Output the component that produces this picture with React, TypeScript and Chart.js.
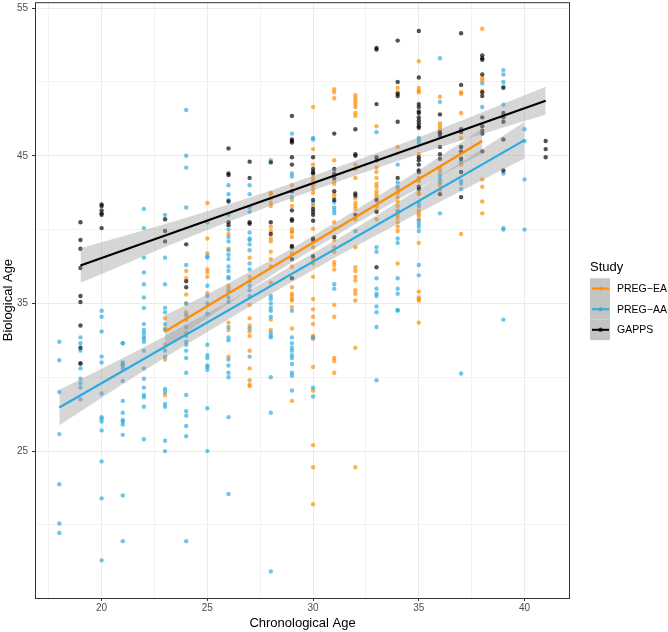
import React, { useEffect, useRef } from 'react';
import { Chart, registerables } from 'chart.js';

Chart.register(...registerables);

// ---------------- data ----------------
const studyNames = ['PREG\u2212EA', 'PREG\u2212AA', 'GAPPS'];

// [chronological age, biological ages]
const pregEA: [number, number[]][] = [
  [23, [34.0, 33.3, 32.2, 31.2, 28.8]],
  [24, [37.2, 36.7, 35.6, 35.0, 34.4, 33.9, 33.0]],
  [25, [41.8, 39.4, 38.4, 37.3, 37.1, 36.8, 35.7]],
  [26, [39.7, 38.7, 36.2, 36.0, 33.7, 33.2, 31.4]],
  [27, [38.1, 36.8, 34.9, 34.0, 33.5, 33.1, 32.8, 31.8, 30.6, 29.8, 29.5, 29.4]],
  [28, [42.5, 42.4, 42.1, 41.8, 41.6, 40.2, 39.9, 39.4, 39.2, 38.5, 38.0, 37.5, 36.4, 33.9, 33.2]],
  [29, [43.0, 42.0, 41.6, 40.05, 39.9, 39.8, 39.5, 38.4, 37.5, 36.1, 35.65, 35.5, 35.3, 35.2, 34.75, 33.3, 28.4]],
  [30, [48.3, 45.45, 44.4, 43.5, 43.3, 43.0, 42.75, 42.5, 41.6, 40.05, 38.8, 38.0, 37.7, 36.8, 35.3, 34.6, 34.1, 33.6, 32.8, 32.7, 32.6, 30.7, 29.1, 25.4, 23.9, 21.4]],
  [31, [49.5, 49.3, 48.9, 44.7, 43.3, 43.1, 42.4, 42.2, 40.5, 40.05, 39.3, 38.8, 38.5, 37.8, 37.6, 37.3, 34.9, 34.1, 31.3, 31.1, 30.3]],
  [32, [49.1, 48.9, 48.7, 48.5, 48.3, 47.9, 47.7, 44.4, 44.1, 43.5, 42.1, 41.8, 41.6, 41.4, 40.7, 38.8, 37.45, 37.2, 36.8, 36.55, 35.9, 35.65, 35.2, 32.0, 23.9]],
  [33, [47.0, 44.2, 43.9, 43.5, 43.1, 42.9, 42.6, 42.4, 42.2, 41.6, 41.3, 40.7]],
  [34, [49.6, 49.3, 45.6, 42.75, 42.5, 42.2, 41.9, 41.6, 41.3, 41.0, 40.8, 40.5, 40.2, 39.9, 37.7]],
  [35, [51.4, 49.6, 49.4, 49.3, 45.1, 43.5, 43.3, 42.5, 42.4, 41.3, 41.1, 40.95, 40.7, 39.1, 35.8, 35.4, 35.3, 35.2, 33.7]],
  [36, [49.0, 47.2, 47.0, 46.8, 44.1, 43.9, 43.0, 42.7]],
  [37, [49.3, 49.2, 47.9, 46.2, 44.4, 39.7]],
  [38, [53.6, 50.25, 50.1, 49.4, 43.4, 42.9, 41.9, 41.1]],
];

const pregAA: [number, number[]][] = [
  [18, [32.4, 31.15, 29.0, 26.15, 22.75, 20.1, 19.45]],
  [19, [32.7, 32.3, 31.8, 30.9, 30.6, 29.9, 29.6, 29.3, 28.5]],
  [20, [34.5, 34.1, 33.1, 31.4, 31.0, 28.9, 27.3, 27.2, 27.0, 26.4, 24.3, 21.8, 17.6]],
  [21, [32.3, 32.3, 31.0, 30.9, 30.8, 30.6, 29.75, 28.4, 27.6, 27.1, 27.0, 26.8, 26.1, 22.0, 18.9]],
  [22, [41.4, 40.1, 38.1, 37.1, 36.3, 35.4, 34.7, 33.6, 33.2, 33.0, 32.75, 32.6, 32.4, 31.8, 30.6, 29.9, 29.3, 28.8, 28.65, 28.0, 25.8]],
  [23, [41.0, 38.1, 36.3, 34.7, 34.4, 33.6, 33.2, 31.8, 31.4, 29.2, 29.0, 28.2, 28.0, 25.7, 25.0]],
  [24, [48.1, 45.0, 44.2, 41.5, 37.6, 35.0, 34.2, 33.4, 32.8, 32.4, 32.2, 31.8, 31.3, 30.3, 28.8, 27.7, 27.4, 26.7, 26.0, 18.9]],
  [25, [40.5, 38.2, 38.1, 36.2, 35.5, 35.0, 34.3, 32.2, 31.5, 31.3, 30.8, 30.7, 30.5, 27.9, 25.0]],
  [26, [43.0, 42.4, 42.0, 41.0, 40.0, 39.5, 39.2, 38.6, 38.3, 38.0, 37.5, 37.2, 36.8, 36.7, 35.8, 35.4, 35.1, 33.4, 32.7, 32.5, 31.2, 30.8, 30.3, 30.0, 27.3, 22.1]],
  [27, [43.0, 42.4, 41.5, 41.2, 39.8, 39.4, 39.3, 39.0, 38.6, 37.7, 37.3, 36.5, 36.2, 35.9, 35.5, 33.3, 31.4]],
  [28, [44.7, 35.5, 35.3, 35.0, 34.7, 34.5, 34.1, 33.0, 32.8, 32.7, 30.0, 27.6, 16.85]],
  [29, [46.5, 43.8, 43.6, 42.2, 34.5, 32.7, 32.3, 32.0, 31.8, 31.5, 31.3, 30.9, 30.3, 30.1, 29.1]],
  [30, [46.2, 46.1, 41.8, 32.7, 29.3, 28.7]],
  [31, [41.85, 41.5, 41.3, 41.1, 36.3, 36.0]],
  [32, [39.9]],
  [33, [46.6, 38.8, 38.5, 36.7, 36.0, 35.65, 35.5, 34.8, 34.4, 33.4, 29.8]],
  [34, [44.4, 43.2, 42.9, 41.2, 39.4, 39.1, 36.7, 36.0, 35.65, 34.55, 34.5]],
  [35, [46.2, 46.1, 45.9, 41.85, 41.6, 40.6, 40.4, 40.2, 39.9, 37.6, 36.9]],
  [36, [51.6, 48.65, 43.65, 43.4, 43.2, 41.1]],
  [37, [45.6, 44.6, 43.3, 43.1, 42.75, 30.25]],
  [38, [49.9, 48.3]],
  [39, [50.8, 50.5, 50.0, 49.7, 48.45, 43.8, 40.1, 40.0, 33.9]],
  [40, [46.8, 46.0, 43.4, 40.0]],
];

const gapps: [number, number[]][] = [
  [19, [40.5, 39.3, 38.7, 37.4, 35.5, 35.1, 33.5, 32.0, 30.95]],
  [20, [41.7, 41.6, 41.3, 41.1, 41.0, 40.1]],
  [23, [40.7, 39.9, 39.2]],
  [24, [39.0, 36.5, 36.1]],
  [26, [45.5, 43.8, 43.7, 41.9, 40.5, 40.3]],
  [27, [44.6, 43.5, 40.5, 40.4]],
  [28, [44.55, 40.5, 39.7]],
  [29, [47.7, 46.1, 46.0, 45.9, 44.9, 44.4, 42.6, 41.3, 40.7, 40.6, 38.9, 38.8, 38.0, 36.7]],
  [30, [44.9, 44.1, 43.9, 43.8, 42.0, 41.4, 41.2, 41.0, 40.6, 39.4, 39.3, 38.2]],
  [31, [46.5, 44.1, 43.8, 43.5, 42.6, 42.0, 39.5]],
  [32, [46.8, 45.1, 45.0, 42.45, 42.3, 41.0]],
  [33, [52.3, 52.2, 48.5, 44.9, 44.7, 42.0, 41.2, 37.45]],
  [34, [52.8, 50.0, 49.2, 49.05, 47.3, 43.5]],
  [35, [53.45, 50.3, 48.5, 48.3, 48.0, 47.9, 47.6, 47.4, 47.2, 47.0, 46.9, 44.9, 44.7, 44.4, 44.0, 43.9, 42.9, 42.75]],
  [36, [47.8, 46.6, 46.5, 46.35, 45.6, 45.1, 44.8, 42.4]],
  [37, [53.3, 49.8, 46.8, 46.6, 45.6, 45.3, 44.8, 43.9, 42.2]],
  [38, [51.8, 51.6, 51.5, 50.5, 49.3, 49.05, 47.6, 47.0, 46.7, 46.5, 45.3]],
  [39, [49.6, 47.9, 47.6, 47.3, 46.1, 44.0]],
  [41, [46.0, 45.45, 44.9]],
];

// fitted regression lines (end points)
const eaFitX = [23, 38];
const eaFitY = [33.1, 46.0];
const aaFitX = [18, 40];
const aaFitY = [27.95, 46.06];
const gappsFitX = [19, 41];
const gappsFitY = [37.57, 48.72];

// confidence bands
const eaBandX = [23, 25, 27, 29, 31, 33, 35, 37, 38];
const eaBandLow = [32.0, 34.02, 35.94, 37.78, 39.53, 41.2, 42.82, 44.39, 45.15];
const eaBandHigh = [34.2, 35.62, 37.14, 38.74, 40.43, 42.2, 44.02, 45.89, 46.85];
const aaBandX = [18, 20, 22, 24, 26, 28, 30, 32, 34, 36, 38, 40];
const aaBandLow = [26.75, 28.62, 30.44, 32.21, 33.93, 35.63, 37.27, 38.85, 40.38, 41.88, 43.36, 44.81];
const aaBandHigh = [29.15, 30.58, 32.04, 33.57, 35.13, 36.73, 38.39, 40.09, 41.86, 43.64, 45.46, 47.31];
const gappsBandX = [19, 21, 23, 25, 27, 29, 31, 33, 35, 37, 39, 41];
const gappsBandLow = [36.4, 37.6, 38.82, 39.97, 41.08, 42.14, 43.16, 44.15, 45.12, 46.03, 46.92, 47.77];
const gappsBandHigh = [38.74, 39.55, 40.38, 41.25, 42.18, 43.14, 44.16, 45.19, 46.26, 47.37, 48.52, 49.67];

// axes
const xTickValues = [17.5, 20, 22.5, 25, 27.5, 30, 32.5, 35, 37.5, 40];
const xTickLabels = ['', '20', '', '25', '', '30', '', '35', '', '40'];
const yTickValues = [20, 25, 30, 35, 40, 45, 50, 55];
const yTickLabels = ['', '25', '', '35', '', '45', '', '55'];

// ---------------- styles ----------------
const lineColors = ['#FF8C00', '#29ABE2', '#000000'];
const pointColors = ['rgba(255,140,0,0.68)', 'rgba(41,171,226,0.68)', 'rgba(0,0,0,0.68)'];
const BAND = 'rgba(153,153,153,0.4)';
const FONT = '"Liberation Sans", Arial, Helvetica, sans-serif';

const toPoints = (cols: [number, number[]][]) =>
  cols.flatMap(([x, ys]) => ys.map((y) => ({ x, y })));
const zip = (xs: number[], ys: number[]) => xs.map((x, i) => ({ x, y: ys[i] }));

const decorPlugin = {
  id: 'decor',
  afterDraw(chart: any) {
    const { ctx, chartArea: a } = chart;
    ctx.save();
    // panel border
    ctx.strokeStyle = '#333333';
    ctx.lineWidth = 1;
    ctx.strokeRect(a.left + 0.5, a.top + 0.5, a.right - a.left - 1, a.bottom - a.top);
    // axis titles
    ctx.fillStyle = '#000';
    ctx.font = `13px ${FONT}`;
    ctx.textAlign = 'center';
    ctx.textBaseline = 'alphabetic';
    ctx.fillText('Chronological Age', (a.left + a.right) / 2, 627);
    ctx.save();
    ctx.translate(12, (a.top + a.bottom) / 2);
    ctx.rotate(-Math.PI / 2);
    ctx.fillText('Biological Age', 0, 0);
    ctx.restore();
    // legend
    ctx.textAlign = 'left';
    ctx.fillText('Study', 590, 271);
    const keyTop = 278.3;
    const keyH = 20.6;
    for (let i = 0; i < 3; i++) {
      const y0 = keyTop + i * keyH;
      ctx.fillStyle = '#C4C4C4';
      ctx.fillRect(590, y0, 20, keyH);
      const cy = y0 + keyH / 2;
      ctx.strokeStyle = lineColors[i];
      ctx.lineWidth = 2;
      ctx.beginPath();
      ctx.moveTo(592, cy);
      ctx.lineTo(609, cy);
      ctx.stroke();
      ctx.fillStyle = pointColors[i];
      ctx.beginPath();
      ctx.arc(600.5, cy, 2.2, 0, Math.PI * 2);
      ctx.fill();
      ctx.fillStyle = '#000';
      ctx.font = `10.5px ${FONT}`;
      ctx.textBaseline = 'middle';
      ctx.fillText(studyNames[i], 617, cy + 0.5);
      ctx.textBaseline = 'alphabetic';
    }
    ctx.restore();
  },
};

export default function App() {
  const ref = useRef<HTMLCanvasElement | null>(null);

  useEffect(() => {
    if (!ref.current) return;
    const groups = [pregEA, pregAA, gapps];
    const fits = [
      [eaFitX, eaFitY],
      [aaFitX, aaFitY],
      [gappsFitX, gappsFitY],
    ];
    const bands = [
      [eaBandX, eaBandLow, eaBandHigh],
      [aaBandX, aaBandLow, aaBandHigh],
      [gappsBandX, gappsBandLow, gappsBandHigh],
    ];
    const datasets: any[] = [];
    // regression lines (top)
    fits.forEach(([xs, ys], i) => {
      datasets.push({
        type: 'line',
        label: studyNames[i] + ' fit',
        data: zip(xs, ys),
        borderColor: lineColors[i],
        borderWidth: 2.2,
        pointRadius: 0,
        showLine: true,
        fill: false,
        order: 1,
      });
    });
    // bands
    bands.forEach(([xs, lo, hi], i) => {
      datasets.push({
        type: 'line',
        label: studyNames[i] + ' upper',
        data: zip(xs, hi),
        borderColor: 'rgba(0,0,0,0)',
        borderWidth: 0,
        pointRadius: 0,
        showLine: true,
        fill: '+1',
        backgroundColor: BAND,
        cubicInterpolationMode: 'monotone',
        order: 5,
      });
      datasets.push({
        type: 'line',
        label: studyNames[i] + ' lower',
        data: zip(xs, lo),
        borderColor: 'rgba(0,0,0,0)',
        borderWidth: 0,
        pointRadius: 0,
        showLine: true,
        fill: false,
        cubicInterpolationMode: 'monotone',
        order: 5,
      });
    });
    // points (bottom): GAPPS drawn last among points
    [2, 1, 0].forEach((i) => {
      datasets.push({
        type: 'scatter',
        label: studyNames[i],
        data: toPoints(groups[i]),
        pointRadius: 2.2,
        pointHoverRadius: 2.2,
        pointBorderWidth: 0,
        pointBackgroundColor: pointColors[i],
        showLine: false,
        order: 10,
      });
    });

    const isMajorX = (v: number) => xTickLabels[xTickValues.indexOf(v)] !== '';
    const isMajorY = (v: number) => yTickLabels[yTickValues.indexOf(v)] !== '';

    const chart = new Chart(ref.current, {
      type: 'scatter',
      data: { datasets },
      options: {
        animation: false,
        responsive: false,
        events: [],
        layout: { padding: { top: 1, right: 98, bottom: 0, left: 0 } },
        plugins: { legend: { display: false }, tooltip: { enabled: false } },
        scales: {
          x: {
            type: 'linear',
            min: 16.85,
            max: 42.15,
            afterBuildTicks: (s: any) => {
              s.ticks = xTickValues.map((v) => ({ value: v }));
            },
            afterFit: (s: any) => {
              s.height = 34;
              s.paddingLeft = 0;
              s.paddingRight = 0;
            },
            ticks: {
              autoSkip: false,
              maxRotation: 0,
              padding: 1,
              color: '#4D4D4D',
              font: { family: FONT, size: 10 },
              callback: (v: any) => xTickLabels[xTickValues.indexOf(Number(v))] ?? '',
            },
            grid: {
              color: (c: any) => (c.tick && isMajorX(c.tick.value) ? '#EBEBEB' : '#F3F3F3'),
              lineWidth: 1,
              tickLength: 3,
              tickColor: (c: any) => (c.tick && isMajorX(c.tick.value) ? '#333333' : 'rgba(0,0,0,0)'),
            },
            border: { display: false },
          },
          y: {
            type: 'linear',
            min: 15.05,
            max: 55.4,
            afterBuildTicks: (s: any) => {
              s.ticks = yTickValues.map((v) => ({ value: v }));
            },
            afterFit: (s: any) => {
              s.width = 35;
              s.paddingTop = 0;
              s.paddingBottom = 0;
            },
            ticks: {
              autoSkip: false,
              padding: 4,
              color: '#4D4D4D',
              font: { family: FONT, size: 10 },
              callback: (v: any) => yTickLabels[yTickValues.indexOf(Number(v))] ?? '',
            },
            grid: {
              color: (c: any) => (c.tick && isMajorY(c.tick.value) ? '#EBEBEB' : '#F3F3F3'),
              lineWidth: 1,
              tickLength: 3,
              tickColor: (c: any) => (c.tick && isMajorY(c.tick.value) ? '#333333' : 'rgba(0,0,0,0)'),
            },
            border: { display: false },
          },
        },
      } as any,
      plugins: [decorPlugin],
    });
    return () => chart.destroy();
  }, []);

  return (
    <div style={{ position: 'absolute', left: 0, top: 0, width: 668, height: 632, background: '#fff' }}>
      <canvas ref={ref} width={668} height={632} style={{ display: 'block' }} />
    </div>
  );
}
